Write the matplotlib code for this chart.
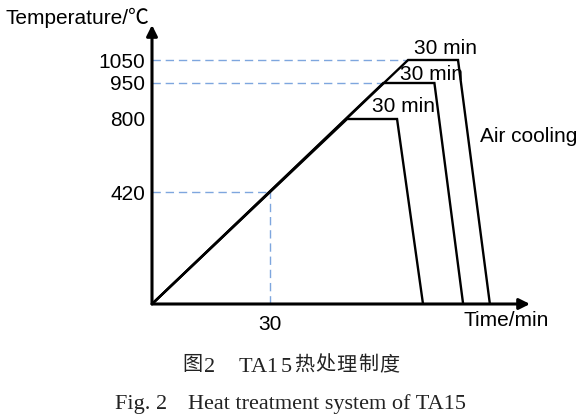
import numpy as np
import matplotlib
matplotlib.use("Agg")
import matplotlib.pyplot as plt

# ---- data (read from the schematic) ----
hold_temps = [800, 950, 1050]          # °C
ramp_end_time = [49.6, 58.8, 65.1]     # min (end of heating ramp)
hold_end_time = [62.3, 71.8, 77.8]     # min (end of 30 min hold)
cool_end_time = [68.9, 79.1, 85.9]     # min (end of air cooling)
mark_time = 30
mark_temp = 420
ytick_vals = [420, 800, 950, 1050]
xtick_vals = [30]

# schematic (non-linear) temperature axis used by the drawing
scale_T = [-2000, 0, 420, 800, 950, 1050, 5000]
scale_P = [-533, 0, 112, 185, 221, 244, 1160]

def fwd(t):
    return np.interp(t, scale_T, scale_P)

def inv(p):
    return np.interp(p, scale_P, scale_T)

W, H = 585, 416
fig = plt.figure(figsize=(W / 100, H / 100), dpi=100)

def fx(x):
    return x / W

def fy(y):
    return 1 - y / H

x0, y0, x1, y1 = 152, 304, 530, 25
ax = fig.add_axes([fx(x0), fy(y0), (x1 - x0) / W, (y0 - y1) / H])
ax.set_yscale('function', functions=(fwd, inv))
ax.set_xlim(0, (x1 - x0) / (118 / 30))
ax.set_ylim(0, inv(y0 - y1))
for s in ax.spines.values():
    s.set_visible(False)
ax.patch.set_alpha(0)

sans = ['Liberation Sans', 'Noto Sans CJK SC', 'DejaVu Sans']
fs = 15

ax.set_yticks(ytick_vals)
ax.set_yticklabels([str(v) for v in ytick_vals])
ax.set_xticks(xtick_vals)
ax.set_xticklabels([str(v) for v in xtick_vals])
ax.yaxis.set_minor_locator(matplotlib.ticker.NullLocator())
ax.tick_params(axis='y', length=0, pad=5)
ax.tick_params(axis='x', length=0, pad=8)
for lab in ax.get_xticklabels() + ax.get_yticklabels():
    lab.set_family(sans)
    lab.set_fontsize(fs)

guide = dict(color='#7ea6de', lw=1.0, dashes=(6, 3.5))
for T, t in zip(hold_temps, ramp_end_time):
    if T != 800:
        ax.plot([0, t], [T, T], **guide)
ax.plot([0, mark_time], [mark_temp, mark_temp], **guide)
ax.plot([mark_time, mark_time], [0, mark_temp], **guide)

for T, t1, t2, t3 in zip(hold_temps, ramp_end_time, hold_end_time, cool_end_time):
    ax.plot([0, t1, t2, t3], [0, T, T, 0], color='black', lw=1.7,
            solid_joinstyle='miter', zorder=3)

# axes with arrows
arrow = dict(arrowstyle='-|>', color='black', lw=2.2, mutation_scale=16,
             shrinkA=0, shrinkB=0)
ax.annotate('', xy=(0, 1), xytext=(0, 0), xycoords='axes fraction',
            arrowprops=arrow, zorder=5)
ax.annotate('', xy=(1, 0), xytext=(0, 0), xycoords='axes fraction',
            arrowprops=arrow, zorder=5)

# labels
fig.text(fx(5), fy(18), 'Temperature/℃', family=sans, fontsize=fs,
         ha='left', va='center')
fig.text(fx(463), fy(321), 'Time/min', family=sans, fontsize=fs,
         ha='left', va='center')
fig.text(fx(446), fy(48), '30 min', family=sans, fontsize=fs, ha='center', va='center')
fig.text(fx(432), fy(75), '30 min', family=sans, fontsize=fs, ha='center', va='center')
fig.text(fx(404), fy(107), '30 min', family=sans, fontsize=fs, ha='center', va='center')
fig.text(fx(480), fy(137), 'Air cooling', family=sans, fontsize=fs,
         ha='left', va='center')

# captions (letter-spaced, as in the printed figure)
cap_col = '#222222'
serif = ['Liberation Serif', 'DejaVu Serif']
cjk = ['Noto Sans CJK SC']
cn_tokens = [('图', 192, cjk), ('2', 210, serif), ('T', 245, serif), ('A', 259, serif),
             ('1', 272, serif), ('5', 286, serif), ('热', 304, cjk), ('处', 325, cjk),
             ('理', 346.5, cjk), ('制', 368, cjk), ('度', 389, cjk)]
for ch, cx, fam in cn_tokens:
    if fam is cjk:
        fig.text(fx(cx), fy(365), ch, family=fam, fontsize=14.5, ha='center',
                 va='center', color=cap_col, fontweight='light')
    else:
        fig.text(fx(cx), fy(372.5), ch, family=fam, fontsize=16, ha='center',
                 va='baseline', color=cap_col)

fig.text(fx(115), fy(409), 'Fig. 2', family=serif, fontsize=16,
         ha='left', va='baseline', color=cap_col)
fig.text(fx(188), fy(409), 'Heat treatment system of TA15', family=serif,
         fontsize=16, ha='left', va='baseline', color=cap_col)

fig.savefig('out.png', dpi=100)
